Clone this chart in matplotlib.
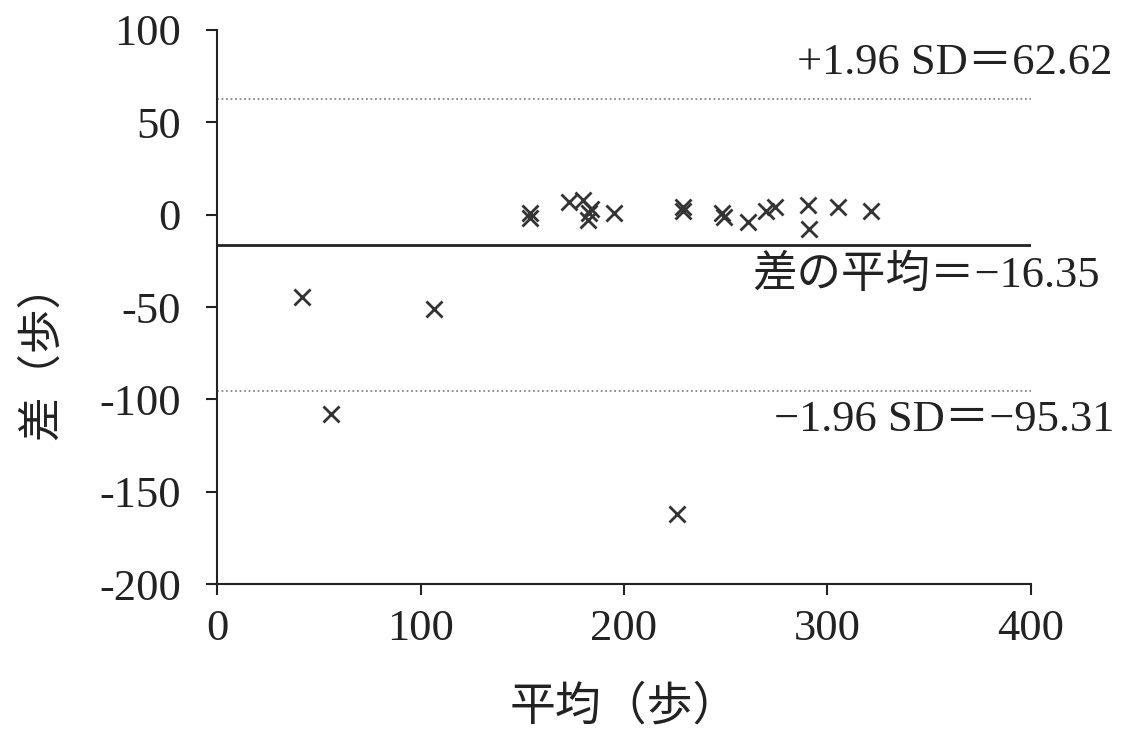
import matplotlib
matplotlib.use("Agg")
import matplotlib.pyplot as plt

plt.rcParams['font.family'] = ['Liberation Serif', 'Noto Sans CJK JP', 'DejaVu Sans']
plt.rcParams['axes.unicode_minus'] = False

# Bland-Altman data
avg_steps = [41.7, 55.8, 106.5, 225.8, 153.6, 153.6, 173, 180, 184, 183, 182.5, 195,
             229, 229, 249, 248, 261, 270, 274, 290.5, 291, 305, 321.5]
diff_steps = [-44.4, -107.9, -51, -162, 1, -2, 7, 8, 3, 1, -3, 1,
              4, 2, -1, 1, -4, 2, 4, 5, -8, 4, 2]

mean_diff = -16.35
upper_loa = 62.62
lower_loa = -95.31

x_ticks = [0, 100, 200, 300, 400]
y_ticks = [100, 50, 0, -50, -100, -150, -200]

fig = plt.figure(figsize=(11.25, 7.31), dpi=100)
ax = fig.add_axes([0.193, 0.201, 0.7234, 0.758])

ax.plot(avg_steps, diff_steps, linestyle='none', marker='x', markersize=11,
        markeredgewidth=2, color='#333333')

ax.plot([0, 402], [mean_diff, mean_diff], color='#222222', linewidth=2)
ax.plot([0, 402], [upper_loa, upper_loa], color='#888888', linewidth=1.3, linestyle=(0, (1, 1.5)))
ax.plot([0, 402], [lower_loa, lower_loa], color='#888888', linewidth=1.3, linestyle=(0, (1, 1.5)))

ax.set_xlim(0, 400)
ax.set_ylim(-200, 100)
ax.set_xticks(x_ticks)
ax.set_yticks(y_ticks)
ax.tick_params(labelsize=32, colors='#222222', length=8, width=1.5)
ax.tick_params(axis='y', pad=18)
ax.tick_params(axis='x', pad=10)

for side in ['top', 'right']:
    ax.spines[side].set_visible(False)
for side in ['left', 'bottom']:
    ax.spines[side].set_linewidth(1.5)
    ax.spines[side].set_color('#222222')

ax.text(1.10, 0.94, '+1.96 SD＝62.62', transform=ax.transAxes, ha='right', va='center',
        fontsize=32, color='#222222', clip_on=False)
ax.text(1.085, 0.558, '差の平均＝−16.35', transform=ax.transAxes, ha='right', va='center',
        fontsize=32, color='#222222', clip_on=False)
ax.text(1.103, 0.296, '−1.96 SD＝−95.31', transform=ax.transAxes, ha='right', va='center',
        fontsize=32, color='#222222', clip_on=False)

ax.set_xlabel('平均（歩）', fontsize=33, color='#222222')
ax.set_ylabel('差（歩）', fontsize=32, color='#222222')
ax.xaxis.set_label_coords(0.5, -0.183)
ax.yaxis.set_label_coords(-0.19, 0.42)

fig.savefig('out.png', dpi=100)
